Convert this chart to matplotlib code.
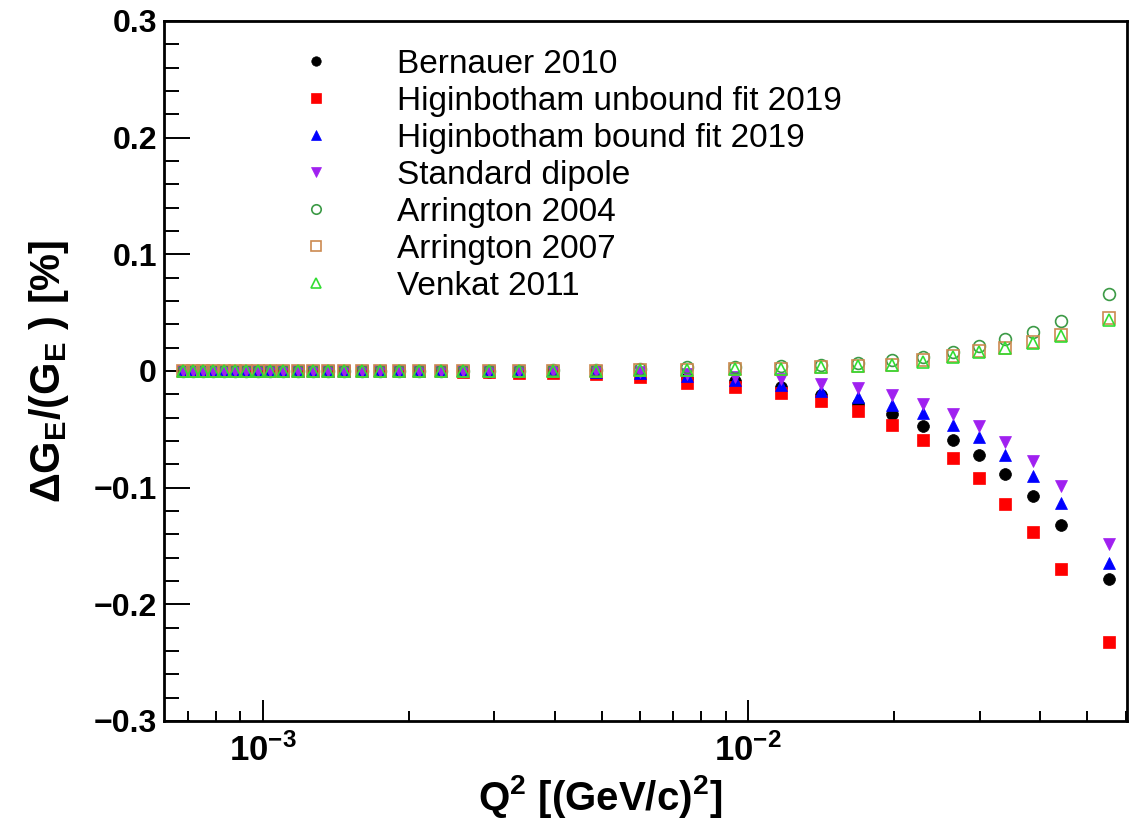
import matplotlib
matplotlib.use("Agg")
import matplotlib.pyplot as plt
from matplotlib.ticker import LogLocator, NullFormatter, MultipleLocator, FuncFormatter

plt.rcParams["font.family"] = ["Liberation Sans", "DejaVu Sans"]
plt.rcParams["mathtext.fontset"] = "custom"
plt.rcParams["mathtext.rm"] = "Liberation Sans:bold"
plt.rcParams["mathtext.it"] = "Liberation Sans:bold"
plt.rcParams["mathtext.bf"] = "Liberation Sans:bold"
plt.rcParams["mathtext.sf"] = "Liberation Sans:bold"
plt.rcParams["mathtext.default"] = "rm"

# Q^2 grid [(GeV/c)^2]
q2 = [6.86e-4, 7.19e-4, 7.54e-4, 7.91e-4, 8.33e-4, 8.78e-4, 9.25e-4, 9.79e-4,
      1.036e-3, 1.102e-3, 1.184e-3, 1.271e-3, 1.365e-3, 1.472e-3, 1.604e-3,
      1.747e-3, 1.911e-3, 2.102e-3, 2.334e-3, 2.591e-3, 2.931e-3, 3.380e-3,
      3.972e-3, 4.871e-3, 6.00e-3, 7.50e-3, 9.42e-3, 1.167e-2, 1.411e-2,
      1.682e-2, 1.977e-2, 2.290e-2, 2.64e-2, 2.99e-2, 3.38e-2, 3.86e-2,
      4.41e-2, 5.54e-2]

zeros_18 = [0.0] * 18

bernauer = zeros_18 + [0.0, 0.0, -0.0005, -0.0007, -0.001, -0.002, -0.003, -0.006,
                       -0.009, -0.014, -0.021, -0.028, -0.037, -0.047, -0.059,
                       -0.072, -0.088, -0.107, -0.132, -0.178]
hig_unbound = zeros_18 + [-0.0003, -0.0005, -0.001, -0.0015, -0.002, -0.003, -0.005,
                          -0.010, -0.014, -0.019, -0.026, -0.034, -0.046, -0.059,
                          -0.075, -0.092, -0.114, -0.138, -0.170, -0.232]
hig_bound = zeros_18 + [0.0, 0.0, 0.0, 0.0, 0.0, -0.001, -0.002, -0.004, -0.008,
                        -0.012, -0.017, -0.022, -0.029, -0.036, -0.046, -0.057,
                        -0.072, -0.090, -0.113, -0.165]
dipole = zeros_18 + [0.0, 0.0, 0.0, 0.0, 0.0, 0.0, -0.001, -0.003, -0.005, -0.007,
                     -0.011, -0.015, -0.021, -0.028, -0.037, -0.047, -0.061,
                     -0.077, -0.099, -0.148]
arrington04 = zeros_18 + [0.0, 0.0, 0.0, 0.0, 0.0005, 0.001, 0.002, 0.003, 0.003,
                          0.004, 0.005, 0.007, 0.009, 0.012, 0.016, 0.021, 0.027,
                          0.033, 0.043, 0.066]
arrington07 = zeros_18 + [0.0, 0.0, 0.0, 0.0, 0.0, 0.0, 0.001, 0.001, 0.002, 0.002,
                          0.003, 0.004, 0.005, 0.009, 0.013, 0.017, 0.020, 0.025,
                          0.031, 0.045]
venkat = zeros_18 + [0.0, 0.0, 0.0, 0.0, 0.0, 0.0, 0.001, 0.001, 0.002, 0.002,
                     0.003, 0.004, 0.005, 0.008, 0.012, 0.016, 0.020, 0.024,
                     0.030, 0.044]

series = [
    ("Bernauer 2010", bernauer, "o", "#000000", True),
    ("Higinbotham unbound fit 2019", hig_unbound, "s", "#ff0000", True),
    ("Higinbotham bound fit 2019", hig_bound, "^", "#0000ff", True),
    ("Standard dipole", dipole, "v", "#a020f0", True),
    ("Arrington 2004", arrington04, "o", "#3c9a46", False),
    ("Arrington 2007", arrington07, "s", "#cc8a50", False),
    ("Venkat 2011", venkat, "^", "#33dd33", False),
]

fig = plt.figure(figsize=(11.45, 8.22), dpi=100)
ax = fig.add_axes([0.1432, 0.1229, 0.8411, 0.8516])

for label, vals, marker, color, filled in series:
    ax.plot(q2, vals, linestyle="none", marker=marker, markersize=8.5,
            markerfacecolor=color if filled else "none",
            markeredgecolor=color, markeredgewidth=1.2 if not filled else 0.5,
            label=label)

ax.set_xscale("log")
ax.set_xlim(6.26e-4, 6.04e-2)
ax.set_ylim(-0.3, 0.3)

ax.xaxis.set_major_locator(LogLocator(base=10, numticks=10))
ax.xaxis.set_minor_locator(LogLocator(base=10, subs=range(2, 10), numticks=20))
ax.xaxis.set_minor_formatter(NullFormatter())
ax.yaxis.set_major_locator(MultipleLocator(0.1))
ax.yaxis.set_minor_locator(MultipleLocator(0.02))


def yfmt(v, pos):
    if abs(v) < 1e-9:
        return "0"
    return f"{v:.1f}".replace("-", "\u2212")


ax.yaxis.set_major_formatter(FuncFormatter(yfmt))

for s in ax.spines.values():
    s.set_linewidth(2.0)
ax.tick_params(axis="both", which="both", direction="in", top=False, right=False, width=1.4)
ax.tick_params(axis="y", which="major", length=19, labelsize=23, pad=5)
ax.tick_params(axis="y", which="minor", length=10.5)
ax.tick_params(axis="x", which="major", length=15, labelsize=25, pad=9)
ax.tick_params(axis="x", which="minor", length=7.5)
for t in ax.get_yticklabels() + ax.get_xticklabels():
    t.set_fontweight("bold")

ax.set_xlabel("Q$^{2}$ [(GeV/c)$^{2}$]", fontsize=29, fontweight="bold")
ax.set_ylabel("\u0394G$_{E}$/(G$_{E}$ ) [%]", fontsize=30, fontweight="bold")
ax.xaxis.set_label_coords(0.453, -0.075)
ax.yaxis.set_label_coords(-0.097, 0.5)

ax.legend(loc="upper left", bbox_to_anchor=(0.1402, 0.960), frameon=False,
          fontsize=24, markerscale=0.8, handlelength=1.0, handletextpad=1.93,
          labelspacing=0.18, borderpad=0.0, borderaxespad=0.0)

fig.savefig("out.png", dpi=100)
